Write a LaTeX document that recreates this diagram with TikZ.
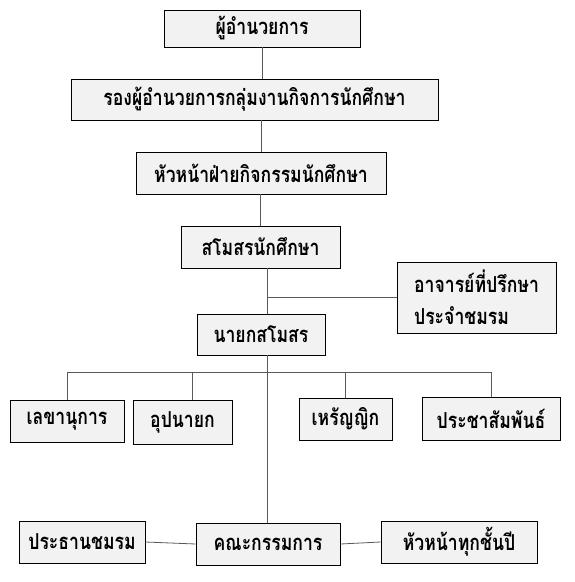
\documentclass[tikz,border=0pt]{standalone}
\usepackage{fontspec}
\newfontfamily\thaifont[Script=Thai, FakeStretch=0.8]{Loma}
\usetikzlibrary{positioning,calc}
\tikzset{
  orgbox/.style={draw=black, fill=gray!10, line width=0.9pt, inner sep=0pt,
    font=\thaifont\bfseries\fontsize{22}{32}\selectfont, align=center},
  link/.style={draw=gray!70!black, line width=0.8pt},
}

\begin{document}
\begin{tikzpicture}[x=1pt, y=-1pt]
  \useasboundingbox (0,0) rectangle (574,582);

  % top chain
  \node[orgbox, minimum width=196, minimum height=37] (dir)   at (262, 28.5) {ผู้อำนวยการ};
  \node[orgbox, minimum width=367, minimum height=41] (vdir)  at (254.5, 99.5) {รองผู้อำนวยการกลุ่มงานกิจการนักศึกษา};
  \node[orgbox, minimum width=250, minimum height=42] (head)  at (261, 173) {หัวหน้าฝ่ายกิจกรรมนักศึกษา};
  \node[orgbox, minimum width=159, minimum height=42] (club)  at (260.5, 247) {สโมสรนักศึกษา};
  \node[orgbox, minimum width=159, minimum height=71, align=left] (advs) at (476.5, 297.5)
    {อาจารย์ที่ปรึกษา\\ประจำชมรม};
  \node[orgbox, minimum width=128, minimum height=41] (pres)  at (261, 334.5) {นายกสโมสร};

  % officers
  \node[orgbox, minimum width=114, minimum height=42] (secr)  at (67, 421) {เลขานุการ};
  \node[orgbox, minimum width=99,  minimum height=44] (vpres) at (182.5, 422) {อุปนายก};
  \node[orgbox, minimum width=93,  minimum height=42] (treas) at (345.5, 419) {เหรัญญิก};
  \node[orgbox, minimum width=138, minimum height=43] (pr)    at (491, 418.5) {ประชาสัมพันธ์};

  % committee row
  \node[orgbox, minimum width=126, minimum height=42] (chair) at (82, 542) {ประธานชมรม};
  \node[orgbox, minimum width=144, minimum height=42] (comm)  at (268, 544) {คณะกรรมการ};
  \node[orgbox, minimum width=156, minimum height=42] (yrs)   at (459, 542) {หัวหน้าทุกชั้นปี};

  \coordinate (trunk) at (267, 0);
  \coordinate (bus)   at (0, 372);
  \coordinate (vdrop) at ($(vpres.north)+(10,0)$);

  \draw[link] (dir.south) -- (dir.south |- vdir.north);
  \draw[link] (head.north) -- (head.north |- vdir.south);
  \draw[link] (club.north) -- (club.north |- head.south);
  \draw[link] (trunk |- club.south) -- (trunk |- pres.north);
  \draw[link] (trunk |- advs.west) -- (advs.west);
  \draw[link] (trunk |- pres.south) -- (trunk |- comm.north);

  \draw[link] (secr.north |- bus) -- (pr.north |- bus);
  \foreach \n in {secr, treas, pr}
    \draw[link] (\n.north |- bus) -- (\n.north);
  \draw[link] (vdrop |- bus) -- (vdrop);

  \draw[link] (chair.east) -- (comm.west);
  \draw[link] (comm.east) -- (yrs.west);
\end{tikzpicture}
\end{document}
